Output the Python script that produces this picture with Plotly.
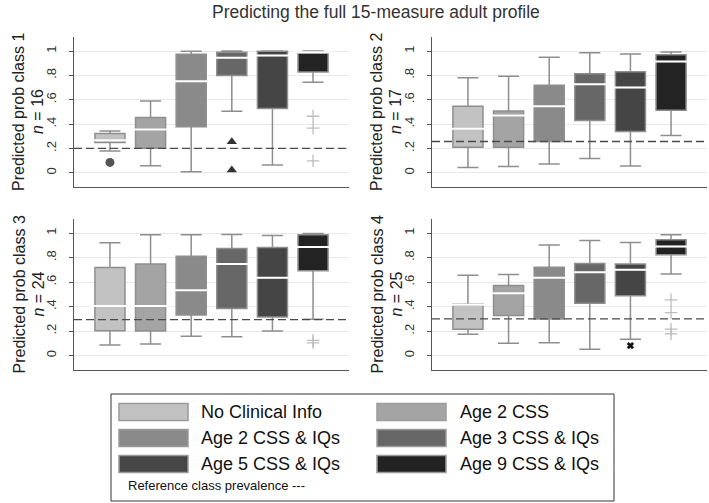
import plotly.graph_objects as go

# ---------------- data ----------------
groups = ["No Clinical Info", "Age 2 CSS", "Age 2 CSS & IQs",
          "Age 3 CSS & IQs", "Age 5 CSS & IQs", "Age 9 CSS & IQs"]
class_labels = ["Predicted prob class 1", "Predicted prob class 2",
                "Predicted prob class 3", "Predicted prob class 4"]
n_sizes = [16, 17, 24, 25]
prevalence = [0.20, 0.257, 0.294, 0.30]
tick_vals = [0, 0.2, 0.4, 0.6, 0.8, 1]
tick_text = ["0", ".2", ".4", ".6", ".8", "1"]
main_title = "Predicting the full 15-measure adult profile"
ref_note = "Reference class prevalence ---"

# class 1
lw_c1 = [0.178, 0.057, 0.008, 0.505, 0.063, 0.743]
q1_c1 = [0.249, 0.202, 0.377, 0.798, 0.527, 0.828]
med_c1 = [0.268, 0.355, 0.751, 0.945, 0.964, 0.99]
q3_c1 = [0.323, 0.454, 0.973, 0.990, 0.997, 0.99]
uw_c1 = [0.342, 0.590, 0.997, 1.000, 1.000, 1.000]
out_c1 = [[0.085], [], [], [0.254, 0.022], [], [0.464, 0.366, 0.098]]

# class 2
lw_c2 = [0.044, 0.052, 0.071, 0.117, 0.055, 0.306]
q1_c2 = [0.210, 0.210, 0.257, 0.429, 0.339, 0.514]
med_c2 = [0.361, 0.470, 0.546, 0.727, 0.700, 0.913]
q3_c2 = [0.546, 0.508, 0.719, 0.814, 0.830, 0.970]
uw_c2 = [0.781, 0.792, 0.948, 0.986, 0.975, 0.992]
out_c2 = [[], [], [], [], [], []]

# class 3
lw_c3 = [0.087, 0.095, 0.158, 0.155, 0.202, 0.297]
q1_c3 = [0.204, 0.202, 0.332, 0.384, 0.316, 0.692]
med_c3 = [0.406, 0.406, 0.534, 0.747, 0.635, 0.886]
q3_c3 = [0.719, 0.747, 0.812, 0.875, 0.883, 0.986]
uw_c3 = [0.921, 0.986, 0.986, 0.989, 0.981, 0.997]
out_c3 = [[], [], [], [], [], [0.125, 0.105]]

# class 4
lw_c4 = [0.174, 0.101, 0.106, 0.052, 0.134, 0.667]
q1_c4 = [0.216, 0.327, 0.300, 0.428, 0.488, 0.823]
med_c4 = [0.415, 0.510, 0.635, 0.681, 0.700, 0.890]
q3_c4 = [0.420, 0.572, 0.722, 0.752, 0.747, 0.945]
uw_c4 = [0.657, 0.662, 0.902, 0.940, 0.923, 0.986]
out_c4 = [[], [], [], [], [0.082], [0.455, 0.351, 0.216, 0.177]]

panels = [
    (lw_c1, q1_c1, med_c1, q3_c1, uw_c1, out_c1),
    (lw_c2, q1_c2, med_c2, q3_c2, uw_c2, out_c2),
    (lw_c3, q1_c3, med_c3, q3_c3, uw_c3, out_c3),
    (lw_c4, q1_c4, med_c4, q3_c4, uw_c4, out_c4),
]

# ---------------- styles ----------------
W, H = 709, 503
FONT = "Liberation Sans, Arial, Helvetica, sans-serif"
fills = ["#c2c2c2", "#a4a4a4", "#8a8a8a", "#676767", "#454545", "#232323"]
box_line = "#8e8e8e"
out_sym = ["circle", "diamond", "square", "triangle-up", "x", "cross-thin"]
out_col = ["#555555", "#555555", "#555555", "#333333", "#111111", "#bdbdbd"]
out_size = [9, 8, 8, 9, 6, 9]
x_range = [-0.885, 5.885]
y_range = [-0.117, 1.115]

# panel geometry in pixels (left, right, top, bottom)
geo = [(74, 349, 37, 187), (432, 707, 37, 187),
       (74, 349, 219, 370), (432, 707, 219, 370)]

def px(x):
    return x / W

def py(y):
    return 1 - y / H

fig = go.Figure()
layout_axes = {}
shapes = []
annotations = []

for i, (lw, q1, med, q3, uw, outs) in enumerate(panels):
    k = "" if i == 0 else str(i + 1)
    xa, ya = "x" + k, "y" + k
    positions = list(range(len(groups)))
    # dashed prevalence line (drawn first: above grid, below boxes)
    fig.add_trace(go.Scatter(
        x=x_range, y=[prevalence[i], prevalence[i]], mode="lines",
        line=dict(color="#4a4a4a", width=1.4, dash="8px,4px"),
        xaxis=xa, yaxis=ya, showlegend=False, hoverinfo="skip",
        cliponaxis=False))
    for g in range(len(groups)):
        fig.add_trace(go.Box(
            x=[positions[g]], q1=[q1[g]], median=[med[g]], q3=[q3[g]],
            lowerfence=[lw[g]], upperfence=[uw[g]],
            width=0.74, whiskerwidth=0.7, boxpoints=False,
            fillcolor=fills[g], line=dict(color=box_line, width=1.5),
            xaxis=xa, yaxis=ya, showlegend=False, hoverinfo="skip"))
    # white median lines
    fig.add_trace(go.Scatter(
        x=positions, y=med, mode="markers",
        marker=dict(symbol="line-ew", size=28,
                    line=dict(color="white", width=2)),
        xaxis=xa, yaxis=ya, showlegend=False, hoverinfo="skip"))
    # outliers
    for g in range(len(groups)):
        if outs[g]:
            sym = out_sym[g]
            mk = dict(symbol=sym, size=out_size[g], color=out_col[g])
            if sym in ("cross-thin",):
                mk["line"] = dict(color=out_col[g], width=1.3)
            if sym == "x":
                mk["line"] = dict(color=out_col[g], width=0.5)
            fig.add_trace(go.Scatter(
                x=[positions[g]] * len(outs[g]), y=outs[g], mode="markers",
                marker=mk, xaxis=xa, yaxis=ya, showlegend=False,
                hoverinfo="skip"))
    l, r, t, b = geo[i]
    layout_axes["xaxis" + k] = dict(
        domain=[px(l), px(r)], range=x_range, anchor=ya,
        showticklabels=False, ticks="", showgrid=False, zeroline=False,
        showline=True, linecolor="#555555", linewidth=1)
    layout_axes["yaxis" + k] = dict(
        domain=[py(b), py(t)], range=y_range, anchor=xa,
        tickvals=tick_vals, ticktext=tick_text, tickangle=-90,
        ticks="outside", ticklen=4, tickcolor="#555555", tickwidth=1,
        ticklabelstandoff=8,
        tickfont=dict(size=13, color="#333333", family=FONT),
        showgrid=True, gridcolor="#e9e9e9", gridwidth=1, zeroline=False,
        showline=True, linecolor="#555555", linewidth=1)
    # y titles
    yc = py((t + b) / 2)
    annotations.append(dict(
        text=class_labels[i], x=px(l - 55), y=yc, xref="paper", yref="paper",
        xanchor="center", yanchor="middle", textangle=-90, showarrow=False,
        font=dict(size=16, color="#222222", family=FONT)))
    annotations.append(dict(
        text="<i>n</i> = %d" % n_sizes[i], x=px(l - 36), y=yc,
        xref="paper", yref="paper", xanchor="center", yanchor="middle",
        textangle=-90, showarrow=False,
        font=dict(size=16, color="#222222", family=FONT)))

# main title
annotations.append(dict(
    text=main_title, x=px(376), y=py(12), xref="paper", yref="paper",
    xanchor="center", yanchor="middle", showarrow=False,
    font=dict(size=17.5, color="#333333", family=FONT)))

# legend frame
shapes.append(dict(type="rect", xref="paper", yref="paper",
                   x0=px(111), x1=px(614), y0=py(501), y1=py(394),
                   line=dict(color="#333333", width=1), fillcolor="white",
                   layer="above"))
row_y = [412, 438, 464]
col_sw = [(119, 188, 199), (377, 446, 458)]
for g, name in enumerate(groups):
    row, col = g // 2, g % 2
    x0, x1, xt = col_sw[col]
    yc = row_y[row]
    shapes.append(dict(type="rect", xref="paper", yref="paper",
                       x0=px(x0), x1=px(x1), y0=py(yc + 8.5), y1=py(yc - 8.5),
                       fillcolor=fills[g], line=dict(color="#9a9a9a", width=1.5),
                       layer="above"))
    annotations.append(dict(
        text=name, x=px(xt), y=py(yc), xref="paper", yref="paper",
        xanchor="left", yanchor="middle", showarrow=False,
        font=dict(size=18, color="#111111", family=FONT)))
annotations.append(dict(
    text=ref_note, x=px(126), y=py(485), xref="paper", yref="paper",
    xanchor="left", yanchor="middle", showarrow=False,
    font=dict(size=13, color="#111111", family=FONT)))

fig.update_layout(
    width=W, height=H, margin=dict(l=0, r=0, t=0, b=0),
    paper_bgcolor="white", plot_bgcolor="white",
    boxmode="overlay", showlegend=False,
    shapes=shapes, annotations=annotations,
    font=dict(family=FONT), **layout_axes)

fig.write_html("out.html", config={"displayModeBar": False},
               post_script="document.body.style.margin='0px';")
